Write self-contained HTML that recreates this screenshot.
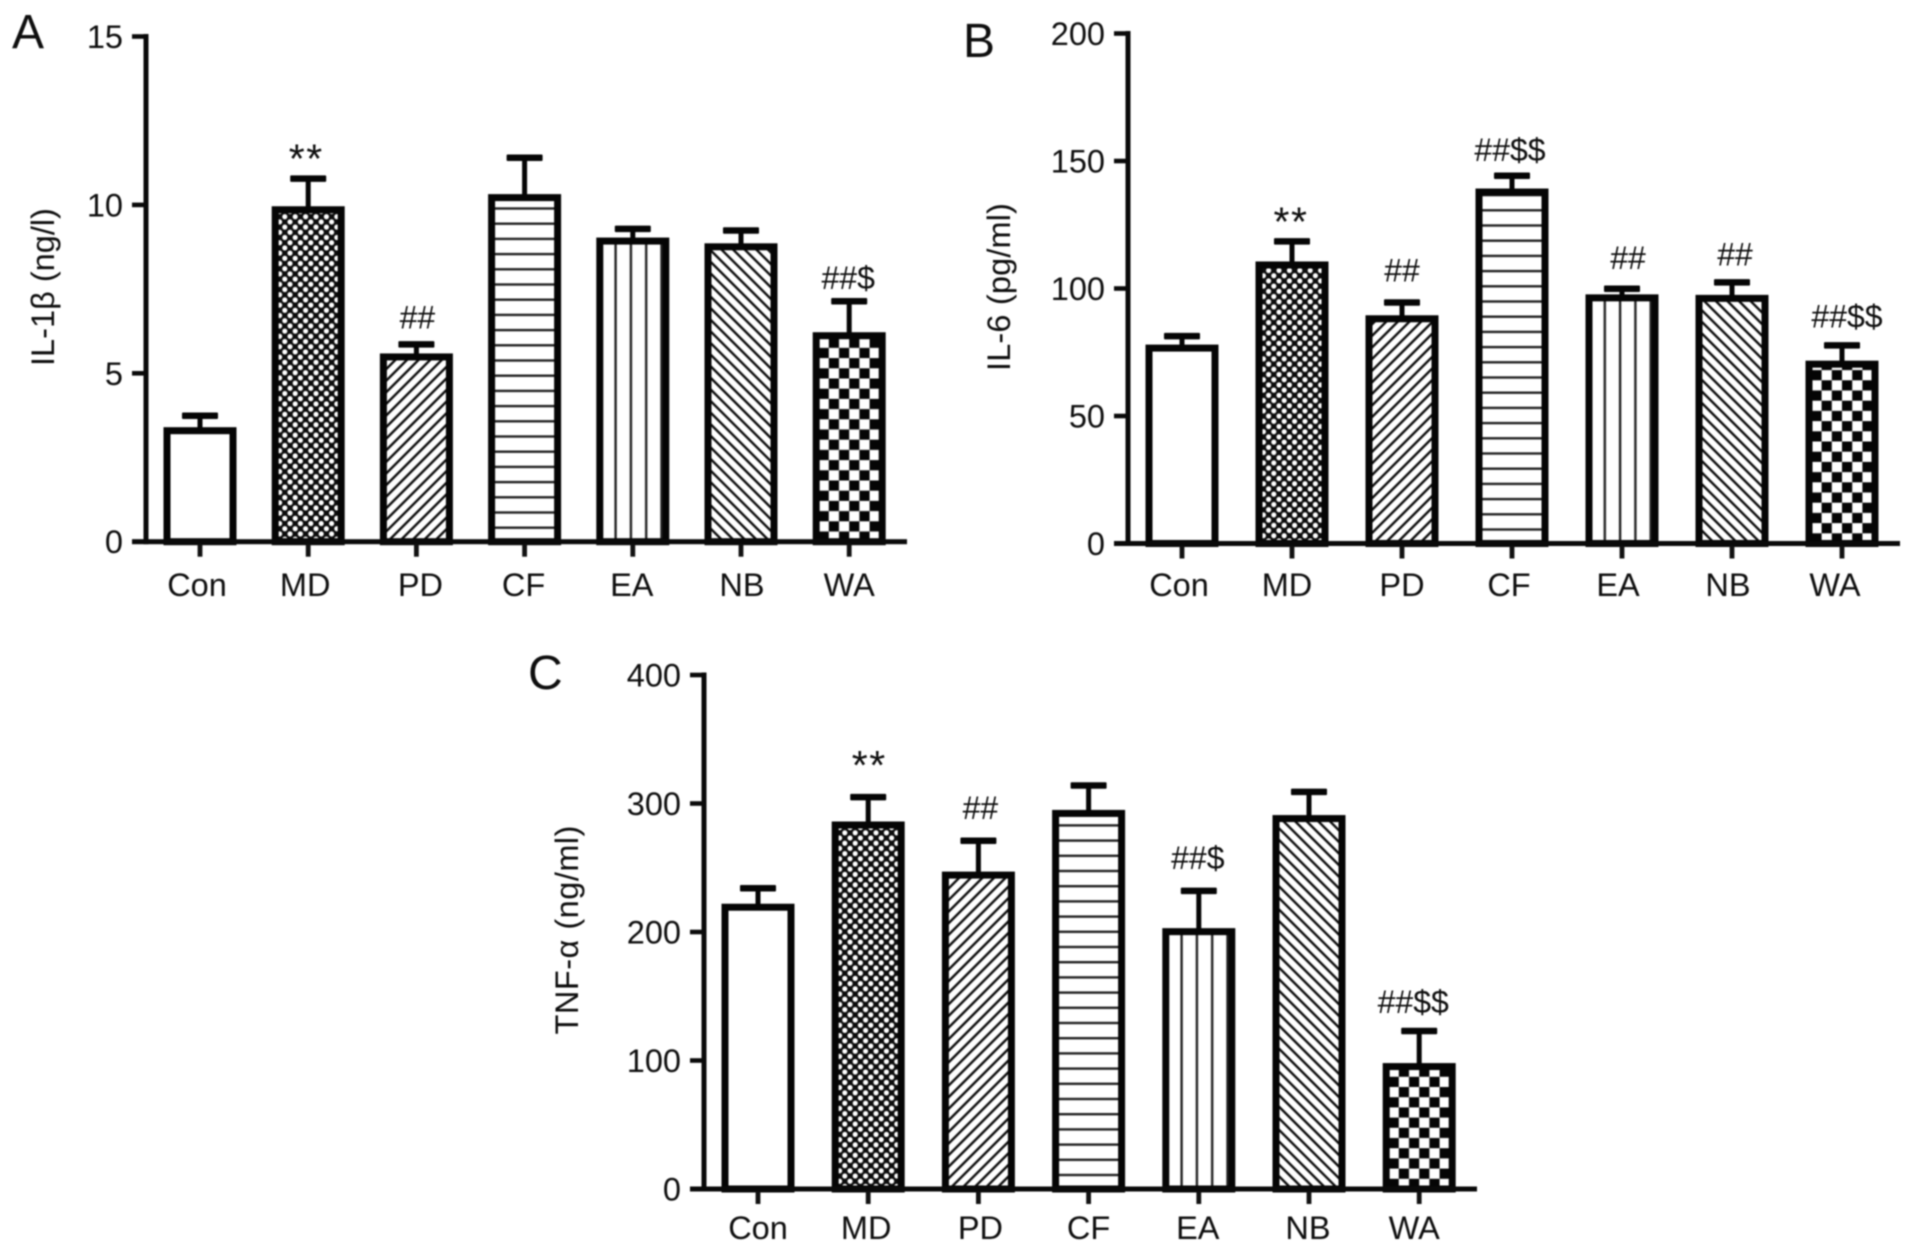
<!DOCTYPE html>
<html lang="en">
<head>
<meta charset="utf-8">
<title>Cytokine levels by group</title>
<style>
  html, body { margin: 0; padding: 0; background: #fff; }
  #figure { display: block; width: 1913px; height: 1253px; background: #fff; filter: blur(0.7px); }
  text { font-family: "Liberation Sans", "DejaVu Sans", sans-serif; fill: #0e0e0e; }
</style>
</head>
<body>
<svg id="figure" xmlns="http://www.w3.org/2000/svg" width="1913" height="1253" viewBox="0 0 1913 1253">
  <defs>
    <pattern id="fill-dots" patternUnits="userSpaceOnUse" width="10.4" height="10.4">
      <rect width="10.4" height="10.4" fill="#0c0c0c"/>
      <circle cx="2.6" cy="2.6" r="2.55" fill="#fff"/>
      <circle cx="7.8" cy="7.8" r="2.55" fill="#fff"/>
    </pattern>
    <pattern id="fill-hatch-up" patternUnits="userSpaceOnUse" width="8.2" height="8.2" patternTransform="rotate(45)">
      <rect width="8.2" height="8.2" fill="#fff"/>
      <rect x="3" y="0" width="2.4" height="8.2" fill="#0c0c0c"/>
    </pattern>
    <pattern id="fill-hatch-down" patternUnits="userSpaceOnUse" width="8.2" height="8.2" patternTransform="rotate(-45)">
      <rect width="8.2" height="8.2" fill="#fff"/>
      <rect x="3" y="0" width="2.4" height="8.2" fill="#0c0c0c"/>
    </pattern>
    <pattern id="fill-horizontal" patternUnits="userSpaceOnUse" width="15.2" height="15.2">
      <rect width="15.2" height="15.2" fill="#fff"/>
      <rect x="0" y="0" width="15.2" height="2.4" fill="#222"/>
    </pattern>
    <pattern id="fill-vertical" patternUnits="userSpaceOnUse" width="15.3" height="15.3">
      <rect width="15.3" height="15.3" fill="#fff"/>
      <rect x="12.2" y="0" width="2.4" height="15.3" fill="#222"/>
    </pattern>
    <pattern id="fill-checker" patternUnits="userSpaceOnUse" width="20.4" height="20.4">
      <rect width="20.4" height="20.4" fill="#fff"/>
      <rect x="0" y="0" width="10.2" height="10.2" fill="#050505"/>
      <rect x="10.2" y="10.2" width="10.2" height="10.2" fill="#050505"/>
    </pattern>
  </defs>
  <rect width="1913" height="1253" fill="#fff"/>
  <g id="panel-a"></g>
  <g id="panel-b"></g>
  <g id="panel-c"></g>
</svg>
<script>
// ---- Data ----
const categories = ['Con', 'MD', 'PD', 'CF', 'EA', 'NB', 'WA'];

const il1bMeans  = [3.40, 9.96, 5.59, 10.32, 9.03, 8.86, 6.22];
const il1bErrors = [0.34, 0.82, 0.27, 1.08, 0.26, 0.38, 0.92];
const il1bTicks  = [0, 5, 10, 15];
const il1bNotes  = ['', '**', '##', '', '', '', '##$'];

const il6Means  = [78, 110.6, 89.5, 139.2, 97.7, 97.5, 71.7];
const il6Errors = [3.3, 7.9, 5, 5, 2.2, 4.9, 6];
const il6Ticks  = [0, 50, 100, 150, 200];
const il6Notes  = ['', '**', '##', '##$$', '##', '##', '##$$'];

const tnfMeans  = [222, 286, 247, 295, 203, 291, 98];
const tnfErrors = [12, 19, 24, 19, 29, 18, 25];
const tnfTicks  = [0, 100, 200, 300, 400];
const tnfNotes  = ['', '**', '##', '', '##$', '', '##$$'];

// ---- Layout (pixels, not data) ----
const patternIds = ['', 'fill-dots', 'fill-hatch-up', 'fill-horizontal', 'fill-vertical', 'fill-hatch-down', 'fill-checker'];

const layoutA = {
  id: 'panel-a', letter: 'A', letterX: 12, letterY: 48,
  title: 'IL-1β (ng/l)', titleX: 54, titleY: 287, titleLen: 158,
  axisX: 146, zeroY: 541.7, topY: 36.5, maxValue: 15, endX: 907,
  firstBar: 200, barStep: 108.2,
  labelY: 596, labelDx: [-3, -3, 4, -1, -1, 1, 0],
  noteGap: [0, 30, 27, 0, 0, 0, 23], noteDx: [0, -2, 1, 0, 0, 0, -1]
};
const layoutB = {
  id: 'panel-b', letter: 'B', letterX: 963, letterY: 57,
  title: 'IL-6 (pg/ml)', titleX: 1010, titleY: 287, titleLen: 168,
  axisX: 1128, zeroY: 543.5, topY: 33.5, maxValue: 200, endX: 1900,
  firstBar: 1182, barStep: 110,
  labelY: 596, labelDx: [-3, -5, 0, -3, -4, -4, -7],
  noteGap: [0, 30, 32, 26, 31, 28, 29], noteDx: [0, -1, 0, -2, 6, 3, 5]
};
const layoutC = {
  id: 'panel-c', letter: 'C', letterX: 528, letterY: 689,
  title: 'TNF-α (ng/ml)', titleX: 578, titleY: 930, titleLen: 209,
  axisX: 704, zeroY: 1189, topY: 675, maxValue: 400, endX: 1477,
  firstBar: 758, barStep: 110.2,
  labelY: 1239, labelDx: [0, -2, 2, 0, -1, -1, -5],
  noteGap: [0, 42, 33, 0, 33, 0, 29], noteDx: [0, 1, 2, 0, -1, 0, -6]
};

const BAR_W = 73, BAR_STROKE = 7, CAP_W = 36, CAP_H = 6.5, STEM_W = 5, AXIS_W = 5, TICK_LEN = 15;
const SVG_NS = 'http://www.w3.org/2000/svg';

function make(parent, tag, attrs, content) {
  const el = document.createElementNS(SVG_NS, tag);
  for (const key in attrs) el.setAttribute(key, attrs[key]);
  if (content !== undefined) el.textContent = content;
  parent.appendChild(el);
  return el;
}

function drawPanel(layout, means, errors, ticks, notes) {
  const root = document.getElementById(layout.id);
  const yScale = v => layout.zeroY - v * (layout.zeroY - layout.topY) / layout.maxValue;
  const xScale = i => layout.firstBar + i * layout.barStep;

  const letter = make(root, 'text', { x: layout.letterX, y: layout.letterY, 'font-size': 48 }, layout.letter);
  
  

  const title = make(root, 'text', {
    transform: 'translate(' + layout.titleX + ',' + layout.titleY + ') rotate(-90)',
    'text-anchor': 'middle', 'font-size': 32.5, textLength: layout.titleLen, lengthAdjust: 'spacing'
  }, layout.title);
  
  

  categories.forEach((cat, i) => {
    const cx = xScale(i);
    const topY = yScale(means[i]);
    const capY = yScale(means[i] + errors[i]);

    const stem = make(root, 'rect', { x: cx - STEM_W / 2, y: capY, width: STEM_W, height: topY - capY + 2, fill: '#050505' });
    
    

    const cap = make(root, 'rect', { x: cx - CAP_W / 2, y: capY - CAP_H / 2, width: CAP_W, height: CAP_H, rx: 1, fill: '#050505' });
    
    

    // Bar drawn in a group anchored to its centre and baseline so the hatch stays aligned to the bar.
    const group = make(root, 'g', { transform: 'translate(' + cx + ',' + layout.zeroY + ')' });
    
    

    const inset = BAR_STROKE / 2;
    const h = layout.zeroY - topY;
    const fill = patternIds[i] ? 'url(#' + patternIds[i] + ')' : '#fff';
    const bar = make(group, 'rect', {
      x: -BAR_W / 2 + inset, y: -h + inset, width: BAR_W - BAR_STROKE, height: h - inset,
      fill: fill, stroke: '#050505', 'stroke-width': BAR_STROKE
    });
    
    

    const tick = make(root, 'rect', { x: cx - 2.4, y: layout.zeroY, width: 4.8, height: TICK_LEN, fill: '#111' });
    
    

    const label = make(root, 'text', { x: cx + layout.labelDx[i], y: layout.labelY, 'text-anchor': 'middle', 'font-size': 32.5 }, cat);
    
    

    if (notes[i]) {
      const isStar = notes[i] === '**';
      const centerY = capY - layout.noteGap[i];
      const note = make(root, 'text', {
        x: cx + layout.noteDx[i],
        y: centerY + (isStar ? 24 : 11),
        'text-anchor': 'middle',
        'font-size': isStar ? 41 : 32,
        'letter-spacing': isStar ? 1.5 : 0
      }, notes[i]);
      
      
    }
  });

  const yAxis = make(root, 'rect', { x: layout.axisX - AXIS_W / 2, y: yScale(layout.maxValue) - AXIS_W / 2, width: AXIS_W, height: layout.zeroY - yScale(layout.maxValue) + AXIS_W, fill: '#0a0a0a' });
  
  

  const xAxis = make(root, 'rect', { x: layout.axisX - 14, y: layout.zeroY - AXIS_W / 2, width: layout.endX - layout.axisX + 14, height: AXIS_W, fill: '#0a0a0a' });
  
  

  ticks.forEach(t => {
    const y = yScale(t);
    const mark = make(root, 'rect', { x: layout.axisX - 14, y: y - 2.3, width: 14, height: 4.6, fill: '#0a0a0a' });
    
    

    const label = make(root, 'text', { x: layout.axisX - 23, y: y + 11.5, 'text-anchor': 'end', 'font-size': 32.5 }, String(t));
    
    
  });
}

drawPanel(layoutA, il1bMeans, il1bErrors, il1bTicks, il1bNotes);
drawPanel(layoutB, il6Means, il6Errors, il6Ticks, il6Notes);
drawPanel(layoutC, tnfMeans, tnfErrors, tnfTicks, tnfNotes);
</script>
</body>
</html>
